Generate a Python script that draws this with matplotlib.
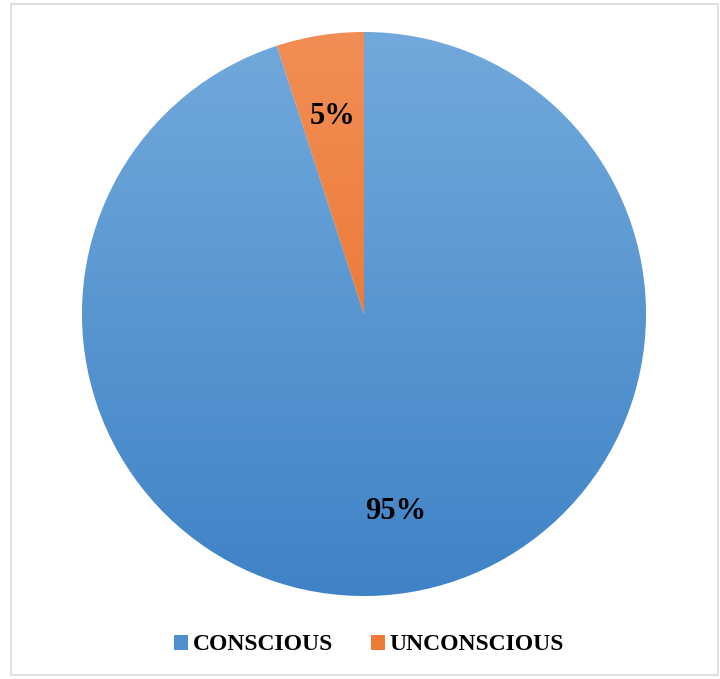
import numpy as np
import matplotlib.pyplot as plt
from matplotlib.patches import Rectangle
from matplotlib.colors import LinearSegmentedColormap

# données
labels = ['CONSCIOUS', 'UNCONSCIOUS']
values = [95, 5]
top_colors = ['#72a9dc', '#f28e55']
bottom_colors = ['#3f83c6', '#e8691f']
legend_colors = ['#4f8fd0', '#ee7a35']

plt.rcParams['font.family'] = ['Liberation Serif', 'DejaVu Serif']

fig = plt.figure(figsize=(7.2, 6.79), dpi=100)
fig.patches.append(Rectangle((11 / 720, 4 / 679), 707 / 720, 671 / 679,
                             transform=fig.transFigure, fill=False,
                             edgecolor='#d9d9d9', linewidth=1.2))

ax = fig.add_axes([82 / 720, 83 / 679, 564 / 720, 564 / 679])
wedges, texts, autotexts = ax.pie(values, startangle=90, counterclock=False,
                                  colors=legend_colors, autopct='%d%%',
                                  pctdistance=0.71,
                                  wedgeprops=dict(edgecolor='white', linewidth=0.8),
                                  textprops=dict(fontsize=22, fontweight='bold', color='black'))

# dégradé vertical dans chaque part
for w, c1, c2 in zip(wedges, top_colors, bottom_colors):
    cmap = LinearSegmentedColormap.from_list('g', [c2, c1])
    grad = np.linspace(0, 1, 256).reshape(-1, 1)
    im = ax.imshow(grad, extent=[-1, 1, -1, 1], origin='lower', cmap=cmap,
                   aspect='auto', zorder=w.get_zorder() + 0.1)
    im.set_clip_path(w)
for t in autotexts:
    t.set_zorder(5)

ax.set_xlim(-1.0, 1.0)
ax.set_ylim(-1.0, 1.0)
ax.set_aspect('equal')
ax.axis('off')

handles = [Rectangle((0, 0), 1, 1, facecolor=c, edgecolor='none') for c in legend_colors]
fig.legend(handles, labels, loc='center', bbox_to_anchor=(369 / 720, 1 - 645 / 679),
           ncol=2, frameon=False, prop=dict(size=17, weight='bold'),
           handlelength=0.6, handleheight=0.6, handletextpad=0.2, columnspacing=1.6)

fig.savefig('out.png', dpi=100)
